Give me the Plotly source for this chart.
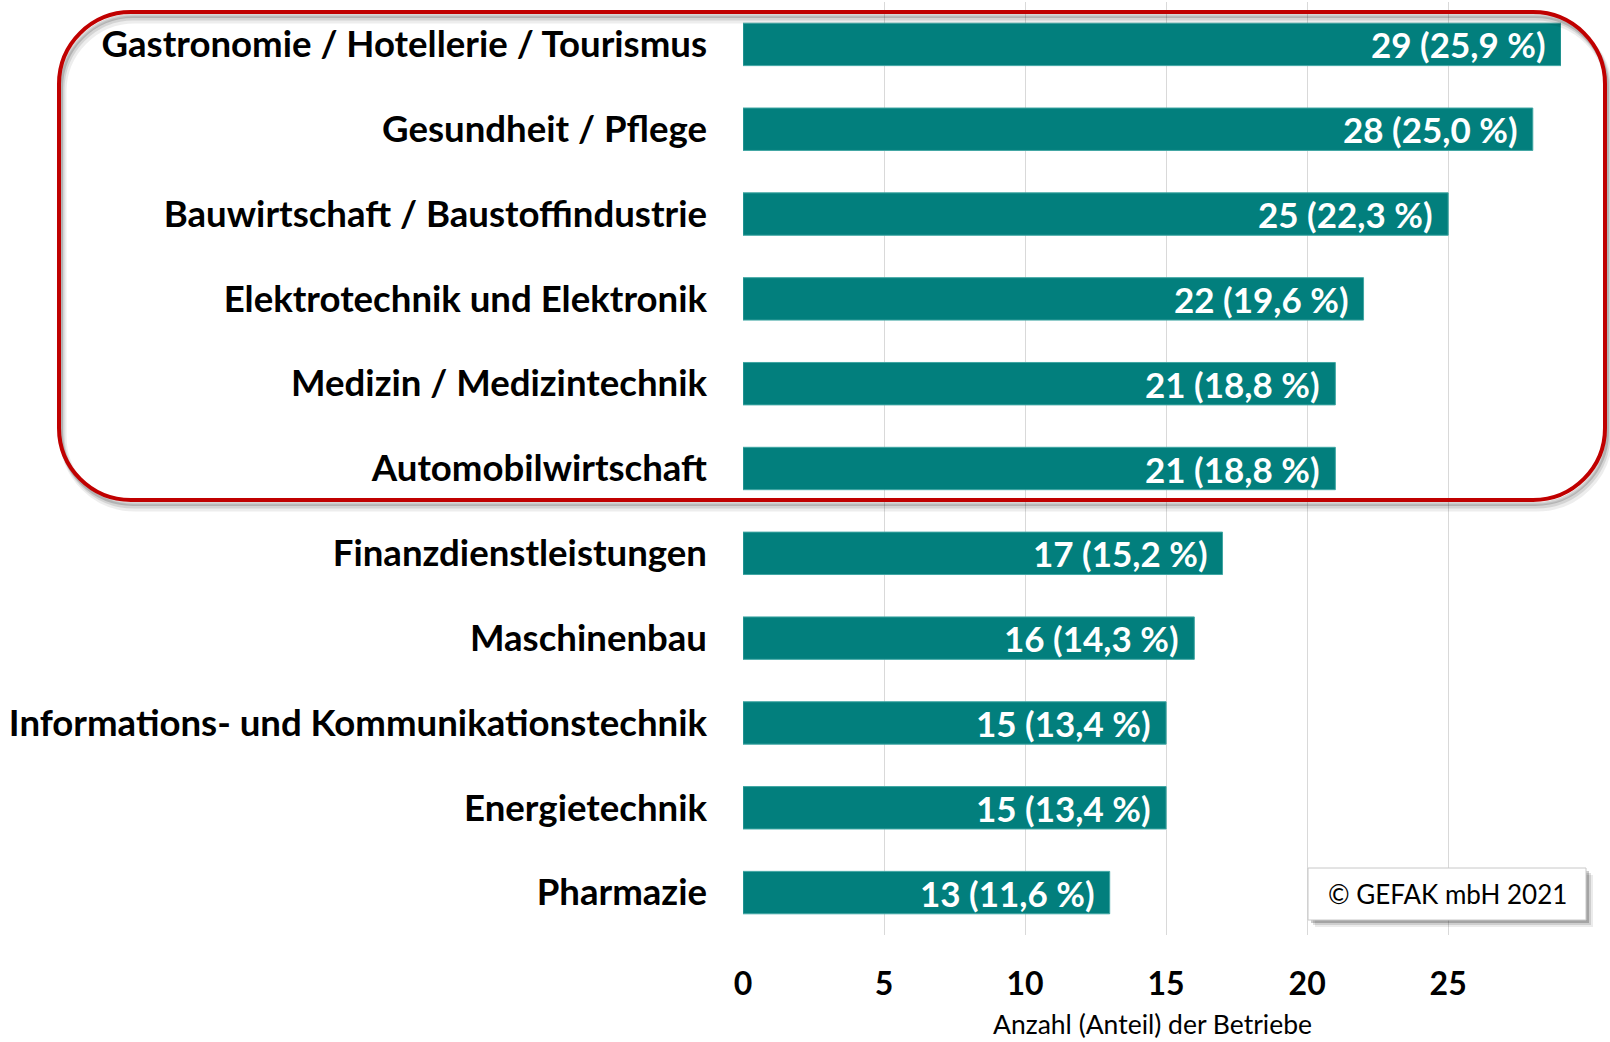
import plotly.graph_objects as go

categories = [
    "Gastronomie / Hotellerie / Tourismus",
    "Gesundheit / Pflege",
    "Bauwirtschaft / Baustoffindustrie",
    "Elektrotechnik und Elektronik",
    "Medizin / Medizintechnik",
    "Automobilwirtschaft",
    "Finanzdienstleistungen",
    "Maschinenbau",
    "Informations- und Kommunikationstechnik",
    "Energietechnik",
    "Pharmazie",
]
counts = [29, 28, 25, 22, 21, 21, 17, 16, 15, 15, 13]
shares = ["25,9", "25,0", "22,3", "19,6", "18,8", "18,8", "15,2", "14,3", "13,4", "13,4", "11,6"]
x_ticks = [0, 5, 10, 15, 20, 25]
x_title = "Anzahl (Anteil) der Betriebe"
copyright_text = "© GEFAK mbH 2021"

W, H = 1610, 1042
ML, MR, MT, MB = 743, 49, 2, 107
PW, PH = W - ML - MR, H - MT - MB

def px(x):
    return (x - ML) / PW

def py(y):
    return (H - MB - y) / PH

FONT = "Lato"
TEAL = "#027F7D"

fig = go.Figure()
fig.add_trace(go.Bar(
    x=counts, y=categories, orientation="h",
    marker=dict(color=TEAL, line=dict(color="#3FA6A3", width=1)),
    hoverinfo="skip",
))

annotations = []
for c, v, s in zip(categories, counts, shares):
    annotations.append(dict(
        x=v, y=c, xref="x", yref="y", text=f"{v} ({s} %)",
        showarrow=False, xanchor="right", xshift=-13, yanchor="middle",
        font=dict(family=FONT, size=35, color="white", weight=700),
    ))

annotations.append(dict(
    x=0.5, y=py(1024), xref="paper", yref="paper", text=x_title,
    showarrow=False, xanchor="center", yanchor="middle",
    font=dict(family=FONT, size=26.5, color="#000000"),
))

bx0, bx1, by0, by1 = 1308, 1586, 868, 920
annotations.append(dict(
    x=px((bx0 + bx1) / 2), y=py((by0 + by1) / 2), xref="paper", yref="paper",
    text=copyright_text, showarrow=False, xanchor="center", yanchor="middle",
    font=dict(family=FONT, size=26, color="#000000"),
))

shapes = []
for off, op in [(7, 0.08), (5, 0.12), (3, 0.2)]:
    shapes.append(dict(type="rect", xref="paper", yref="paper",
                       x0=px(bx0 + off), x1=px(bx1 + off), y0=py(by1 + off), y1=py(by0 + off),
                       line=dict(width=0), fillcolor=f"rgba(0,0,0,{op})", layer="above"))
shapes.append(dict(type="rect", xref="paper", yref="paper",
                   x0=px(bx0), x1=px(bx1), y0=py(by1), y1=py(by0),
                   line=dict(color="#C8C8C8", width=1), fillcolor="white", layer="above"))

def rounded_path(x0, y0, x1, y1, r):
    k = 0.5523 * r
    def P(x, y):
        return f"{px(x):.5f},{py(y):.5f}"
    d = f"M {P(x0 + r, y0)} L {P(x1 - r, y0)} "
    d += f"C {P(x1 - r + k, y0)} {P(x1, y0 + r - k)} {P(x1, y0 + r)} "
    d += f"L {P(x1, y1 - r)} "
    d += f"C {P(x1, y1 - r + k)} {P(x1 - r + k, y1)} {P(x1 - r, y1)} "
    d += f"L {P(x0 + r, y1)} "
    d += f"C {P(x0 + r - k, y1)} {P(x0, y1 - r + k)} {P(x0, y1 - r)} "
    d += f"L {P(x0, y0 + r)} "
    d += f"C {P(x0, y0 + r - k)} {P(x0 + r - k, y0)} {P(x0 + r, y0)} Z"
    return d

rx0, ry0, rx1, ry1, rr = 59, 12, 1605, 500, 72
for off, op, w in [(8, 0.07, 7), (6, 0.10, 5), (4, 0.16, 4)]:
    shapes.append(dict(type="path", xref="paper", yref="paper",
                       path=rounded_path(rx0 + off * 0.5, ry0 + off, rx1 + off * 0.5, ry1 + off, rr),
                       line=dict(color=f"rgba(0,0,0,{op})", width=w), layer="above"))
shapes.append(dict(type="path", xref="paper", yref="paper",
                   path=rounded_path(rx0, ry0, rx1, ry1, rr),
                   line=dict(color="#C00000", width=4), layer="above"))

fig.update_layout(
    width=W, height=H,
    margin=dict(l=ML, r=MR, t=MT, b=MB, pad=0),
    paper_bgcolor="white", plot_bgcolor="white",
    bargap=0.5, showlegend=False,
    annotations=annotations, shapes=shapes,
    xaxis=dict(range=[0, 29], tickvals=x_ticks, showgrid=True, gridcolor="#D9D9D9", gridwidth=1,
               zeroline=False, showline=False, ticks="", ticklabelstandoff=27,
               tickfont=dict(family=FONT, size=32, color="#000000", weight=700), fixedrange=True),
    yaxis=dict(categoryorder="array", categoryarray=categories[::-1], showgrid=False,
               zeroline=False, showline=False, ticks="", ticklabelstandoff=35,
               tickfont=dict(family=FONT, size=36.6, color="#000000", weight=700), fixedrange=True),
)

fig.write_html("out.html", config={"displayModeBar": False},
               post_script="document.body.style.margin='0';document.body.style.overflow='hidden';")
